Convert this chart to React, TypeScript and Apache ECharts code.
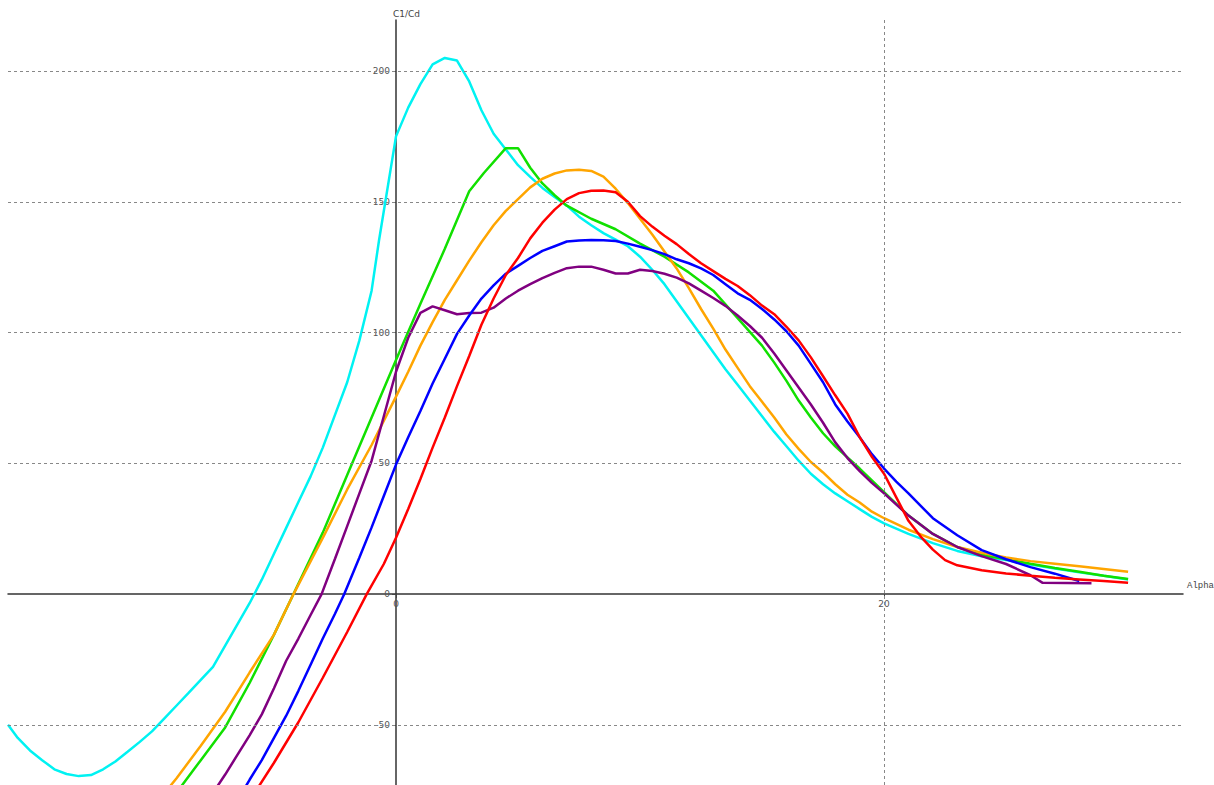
import React, { useEffect, useRef } from "react";
import * as echarts from "echarts";

// Cl/Cd vs Alpha, one array of [alpha, Cl/Cd] per curve
const cyanCurve: [number, number][] = [
  [-15.9, -50], [-15.5, -55], [-15, -59.8], [-14.5, -63.5], [-14, -67], [-13.5, -68.8], [-13, -69.6], [-12.5, -69.2],
  [-12, -67], [-11.5, -64], [-11, -60.3], [-10.5, -56.5], [-10, -52.5], [-9.5, -47.6], [-9, -42.7], [-8.5, -37.8],
  [-8, -32.8], [-7.5, -27.8], [-7, -19.7], [-6.5, -11.6], [-6, -3.5], [-5.5, 5.5], [-5, 15.4], [-4.5, 25.3],
  [-4, 35.2], [-3.5, 45], [-3, 56], [-2.5, 68.5], [-2, 81], [-1.5, 97], [-1, 116], [-0.7, 135], [0, 175],
  [0.5, 186], [1, 195], [1.5, 202.5], [2, 205], [2.5, 204], [3, 196], [3.5, 185], [4, 176], [4.5, 170],
  [5, 164], [5.5, 159.5], [6, 155.3], [6.5, 151.8], [7, 148.5], [7.5, 144.3], [8, 141], [8.5, 138],
  [9, 135.5], [9.5, 133], [10, 129], [10.5, 124], [11, 118.5], [11.5, 112], [12, 105.5], [12.5, 99],
  [13, 92.5], [13.5, 86], [14, 80], [14.5, 74], [15, 68], [15.5, 62], [16, 56.5], [16.5, 51], [17, 46],
  [17.5, 42], [18, 38.5], [18.5, 35.5], [19, 32.5], [19.5, 29.5], [20, 27], [21, 23], [22, 19.5], [23, 16.5],
  [24, 14.5], [25, 13], [26, 11.3], [27, 9.8], [28, 8.3], [29, 7], [30, 5.6],
];

const greenCurve: [number, number][] = [
  [-10, -88], [-9, -76], [-8, -63.5], [-7, -51], [-6, -34], [-5, -15.5], [-4.2, 0], [-3, 23.5], [-2, 45.5],
  [-1, 67.5], [0, 89.5], [1, 111], [2, 132], [3, 154], [3.6, 161], [4.5, 170.5], [5, 170.5], [5.5, 163],
  [6, 157], [6.5, 152.5], [7, 148.5], [8, 143.5], [9, 139.5], [10, 134], [11, 129], [12, 123], [13, 116],
  [14, 105.5], [15, 95], [15.5, 88.5], [16, 81.5], [16.5, 74], [17, 67.5], [17.5, 61.5], [18, 56.5], [19, 48],
  [20, 39], [21, 30], [22, 23], [23, 18], [24, 15], [25, 13.3], [26, 11.6], [27, 10], [28, 8.5], [29, 7], [30, 5.8],
];

const orangeCurve: [number, number][] = [
  [-10, -82], [-9, -70.5], [-8, -58], [-7, -45], [-6, -30], [-5, -15.5], [-4.2, 0], [-3, 21.5], [-2, 40],
  [-1, 57], [0, 75.5], [0.5, 85], [1, 95], [1.5, 104], [2, 112.5], [2.5, 120], [3, 127.5], [3.5, 134.5],
  [4, 141], [4.5, 146.5], [5, 151], [5.5, 155.5], [6, 158.8], [6.5, 160.8], [7, 162], [7.5, 162.2],
  [8, 161.8], [8.5, 159.6], [9, 155], [9.5, 149.5], [10, 143.5], [10.5, 137.5], [11, 131], [11.5, 124.5],
  [12, 117], [12.5, 109], [13, 101.5], [13.5, 93.5], [14, 86.5], [14.5, 79.5], [15, 73.5], [15.5, 67.5],
  [16, 61], [16.5, 55.5], [17, 50.5], [17.5, 46.5], [18, 42], [18.5, 38], [19, 35], [19.5, 31.5], [20, 29],
  [21, 24.6], [22, 21], [23, 18], [24, 15.8], [25, 14], [26, 12.6], [27, 11.6], [28, 10.6], [29, 9.6], [30, 8.5],
];

const purpleCurve: [number, number][] = [
  [-8, -83], [-7.5, -76], [-7, -69], [-6.5, -61.5], [-6, -54], [-5.5, -46], [-5, -36], [-4.5, -25.5],
  [-4, -17], [-3.5, -8], [-3.05, 0], [-2.5, 13.5], [-2, 26], [-1.5, 38.5], [-1, 51], [-0.5, 68], [0, 85],
  [0.5, 98], [1, 107.5], [1.5, 110], [2, 108.5], [2.5, 107], [3, 107.5], [3.5, 107.6], [4, 109.5],
  [4.5, 113], [5, 116], [5.5, 118.5], [6, 120.8], [6.5, 122.8], [7, 124.6], [7.5, 125.2], [8, 125.2],
  [8.5, 124], [9, 122.6], [9.5, 122.6], [10, 124], [10.5, 123.5], [11, 122.5], [11.5, 121], [12, 118.8],
  [12.5, 116], [13, 113.2], [13.5, 110.2], [14, 106.5], [14.5, 102.5], [15, 98], [15.5, 92], [16, 85.5],
  [16.5, 79], [17, 72.5], [17.5, 65.5], [18, 58], [18.5, 52], [19, 47], [19.5, 42.5], [20, 38.5], [21, 30],
  [22, 23], [23, 18], [24, 14.5], [25, 11.5], [26, 7.2], [26.5, 4.3], [27.5, 4.2], [28.5, 4.1],
];

const blueCurve: [number, number][] = [
  [-7, -87], [-6.5, -79], [-6, -71], [-5.5, -63.5], [-5, -55], [-4.5, -46.5], [-4, -37], [-3.5, -27],
  [-3, -17], [-2.5, -7.5], [-2.12, 0], [-1.5, 14], [-1, 25.5], [-0.5, 37.5], [0, 49.5], [0.5, 60], [1, 70],
  [1.5, 80.5], [2, 90], [2.5, 99.5], [3, 106.5], [3.5, 113], [4, 118], [4.5, 122.5], [5, 125.5],
  [5.5, 128.5], [6, 131.2], [6.5, 133], [7, 134.8], [7.5, 135.2], [8, 135.4], [8.5, 135.3], [9, 135],
  [9.5, 134], [10, 132.8], [10.5, 131.5], [11, 130], [11.5, 128], [12, 126.5], [12.5, 124.5], [13, 122],
  [13.5, 118.5], [14, 115], [14.5, 112.5], [15, 109], [15.5, 105], [16, 100.5], [16.5, 95], [17, 88],
  [17.5, 81], [18, 72.5], [18.5, 66], [19, 60], [19.5, 53.5], [20, 48], [20.5, 43], [21, 38.5], [22, 29],
  [23, 22.5], [24, 16.8], [25, 13.3], [26, 10.3], [27, 7.8], [28, 5],
];

const redCurve: [number, number][] = [
  [-7, -94], [-6, -79], [-5, -64.5], [-4, -49], [-3, -32], [-2, -14.5], [-1.2, 0], [-0.5, 11.5], [0, 21.5],
  [0.5, 32.5], [1, 44], [1.5, 56], [2, 67.5], [2.5, 79.5], [3, 91], [3.5, 103], [4, 113], [4.5, 122],
  [5, 128.5], [5.5, 136], [6, 142], [6.5, 147], [7, 151], [7.5, 153.3], [8, 154.2], [8.5, 154.3],
  [9, 153.6], [9.5, 150], [10, 144.5], [10.5, 140.5], [11, 137], [11.5, 133.8], [12, 130], [12.5, 126.5],
  [13, 123.5], [13.5, 120.5], [14, 117.8], [14.5, 114.3], [15, 110.3], [15.5, 107], [16, 102.2], [16.5, 97],
  [17, 90.5], [17.5, 83.3], [18, 76], [18.5, 69], [19, 60], [19.5, 52.5], [20, 46], [20.5, 37], [21, 28],
  [21.5, 22], [22, 17], [22.5, 13], [23, 11], [24, 9.1], [25, 7.9], [26, 7], [27, 6.2], [28, 5.6], [29, 5], [30, 4.3],
];

const xTickValues = [0, 20];
const yTickValues = [-50, 0, 50, 100, 150, 200];
const yGridValues = [-50, 50, 100, 150, 200];
const xGridValues = [20];

const xRange = [-15.9, 32.25];
const yRange = [-73, 219.5];

const curves: { name: string; color: string; data: [number, number][] }[] = [
  { name: "cyan", color: "#00f2f2", data: cyanCurve },
  { name: "green", color: "#11e000", data: greenCurve },
  { name: "orange", color: "#ffa500", data: orangeCurve },
  { name: "purple", color: "#800080", data: purpleCurve },
  { name: "blue", color: "#0000ff", data: blueCurve },
  { name: "red", color: "#ff0000", data: redCurve },
];

const W = 1214;
const H = 785;
const GRID = { left: 8, right: 31, top: 20, bottom: 0 };

export default function App() {
  const ref = useRef<HTMLDivElement>(null);
  useEffect(() => {
    if (!ref.current) return;
    const chart = echarts.init(ref.current, undefined, { renderer: "svg" });
    const gridW = W - GRID.left - GRID.right;
    const gridH = H - GRID.top - GRID.bottom;
    // place the axes where the other axis is zero (crossing axes)
    const yAxisOffset = -gridW * (0 - xRange[0]) / (xRange[1] - xRange[0]);
    const xAxisOffset = -gridH * (0 - yRange[0]) / (yRange[1] - yRange[0]);
    const labelStyle = { color: "#555", fontSize: 9, fontFamily: "DejaVu Sans" };
    const axisLine = { onZero: false, lineStyle: { color: "#333", width: 1.5 } };
    chart.setOption({
      animation: false,
      backgroundColor: "#fff",
      grid: { ...GRID, containLabel: false, outerBoundsMode: "none" },
      xAxis: {
        type: "value",
        position: "bottom",
        offset: xAxisOffset,
        min: xRange[0],
        max: xRange[1],
        name: "Alpha",
        nameLocation: "end",
        nameGap: 4,
        nameTextStyle: { color: "#444", fontSize: 9, fontFamily: "Liberation Mono", verticalAlign: "bottom", padding: [0, 0, 4, 0] },
        axisLine,
        axisTick: { show: true, length: 4, customValues: xTickValues, lineStyle: { color: "#444" } },
        axisLabel: { ...labelStyle, margin: 5, customValues: xTickValues },
        splitLine: { show: false },
      },
      yAxis: {
        type: "value",
        position: "left",
        offset: yAxisOffset,
        min: yRange[0],
        max: yRange[1],
        name: "C1/Cd",
        nameLocation: "end",
        nameGap: 2,
        nameTextStyle: { color: "#444", fontSize: 9, fontFamily: "DejaVu Sans", align: "left", padding: [0, 0, 0, -3] },
        axisLine,
        axisTick: { show: true, length: 4, customValues: yTickValues, lineStyle: { color: "#444" } },
        axisLabel: { ...labelStyle, margin: 6, customValues: yTickValues },
        splitLine: { show: false },
      },
      series: [
        {
          type: "line",
          name: "grid",
          data: [],
          silent: true,
          z: 0,
          markLine: {
            silent: true,
            symbol: ["none", "none"],
            label: { show: false },
            lineStyle: { color: "#888", type: [3, 3], width: 1 },
            data: [
              ...yGridValues.map((v) => ({ yAxis: v })),
              ...xGridValues.map((v) => ({ xAxis: v })),
            ],
          },
        },
        ...curves.map((c) => ({
          type: "line",
          name: c.name,
          data: c.data,
          showSymbol: false,
          symbol: "none",
          smooth: false,
          clip: true,
          z: 2,
          lineStyle: { color: c.color, width: 2.5 },
          itemStyle: { color: c.color },
        })),
      ],
    });
    return () => chart.dispose();
  }, []);
  return (
    <div
      ref={ref}
      style={{ position: "fixed", left: 0, top: 0, width: W, height: H, background: "#fff" }}
    />
  );
}
